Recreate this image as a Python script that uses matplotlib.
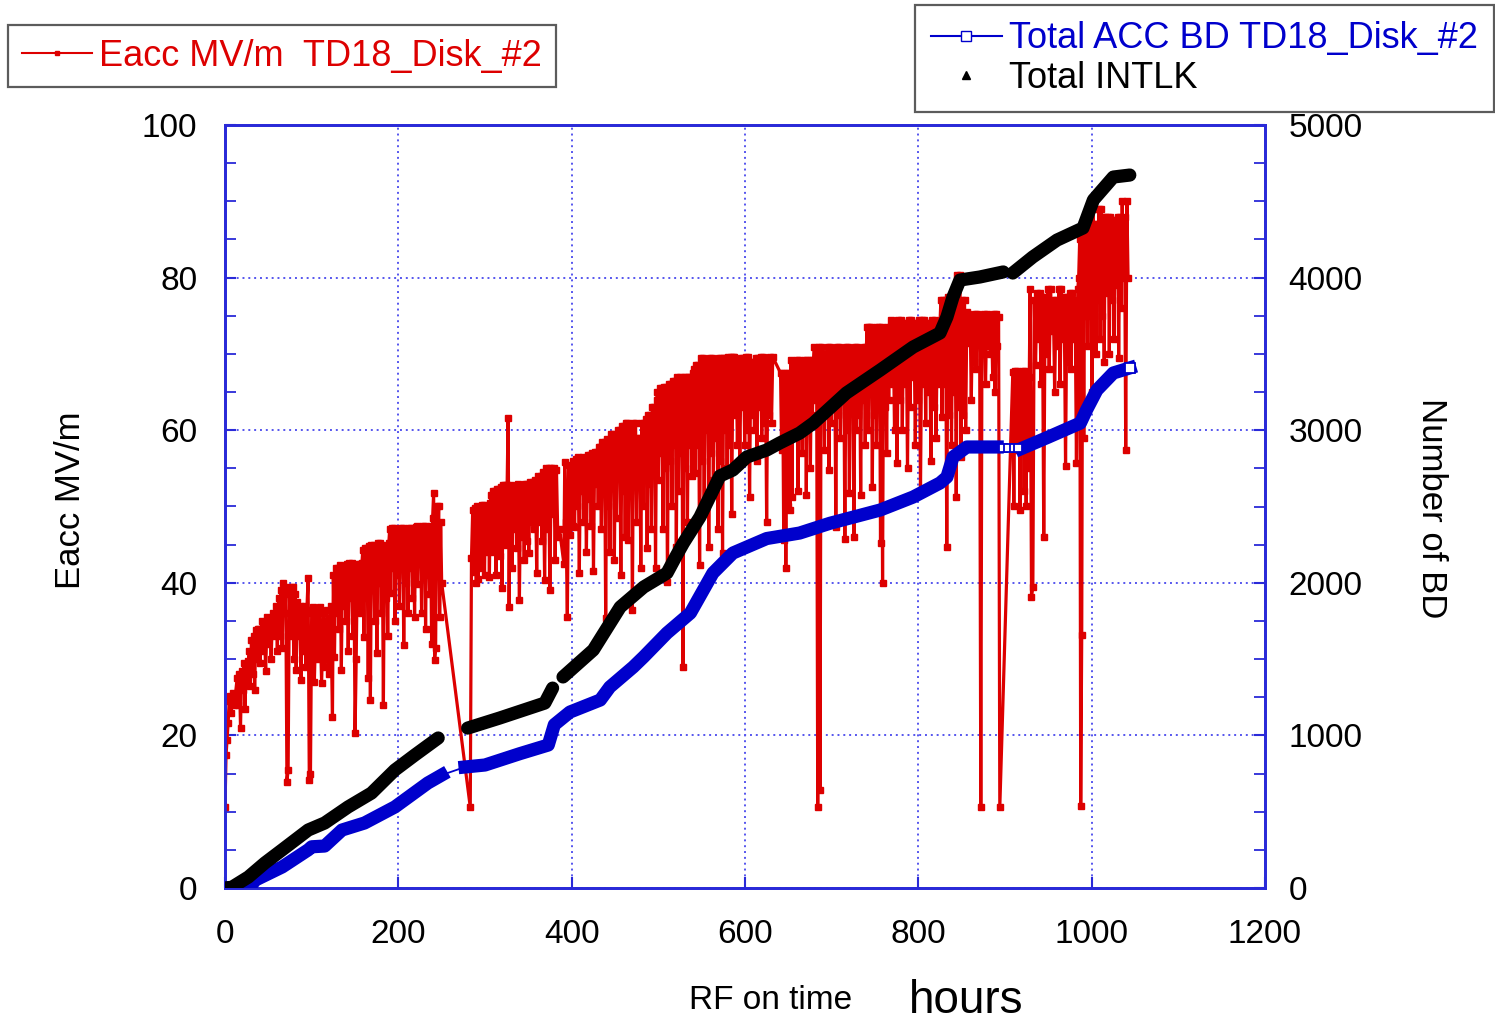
import numpy as np
import matplotlib
matplotlib.use('Agg')
import matplotlib.pyplot as plt
from matplotlib.lines import Line2D

plt.rcParams['font.family'] = ['Liberation Sans', 'DejaVu Sans']

# ---------------- data ----------------
# Eacc (MV/m) readings, grouped in RF-on-time windows (hours)
eacc_windows = [(0, 12), (14, 27), (28, 38), (39, 58), (59, 77), (78, 100), (101, 124),
                (125, 158), (159, 189), (190, 220), (221, 250), (283, 290), (291, 306),
                (307, 329), (330, 348), (349, 384), (386, 391), (392, 401), (402, 432),
                (433, 463), (464, 498), (499, 540), (541, 586), (587, 632), (641, 652),
                (653, 679), (680, 740), (741, 767), (768, 825), (826, 856), (857, 894),
                (909, 928), (929, 984), (985, 1018), (1019, 1042)]
eacc_s01 = [10.6, 17.4, 19.4, 21.6, 24.5, 25.2, 23.0, 25.0, 25.5, 24.0, 25.3]
eacc_s02 = [27.5, 24.0, 28.0, 21.0, 28.5, 26.0, 29.5, 23.5, 29.0, 27.0, 29.8]
eacc_s03 = [31.0, 26.5, 32.5, 28.0, 33.0, 26.0, 33.8, 30.0, 34.0]
eacc_s04 = [34.0, 29.5, 35.0, 31.0, 34.5, 28.5, 35.5, 32.0, 35.0, 30.0, 36.0, 33.0, 35.8]
eacc_s05 = [37.0, 31.0, 38.0, 33.0, 39.0, 31.5, 40.0, 36.0, 39.5, 13.9, 15.5, 38.5, 33.0, 39.5]
eacc_s06 = [39.5, 30.0, 38.5, 28.6, 37.5, 33.0, 37.0, 27.3, 36.8, 31.0, 37.0, 29.0, 36.5,
            40.6, 14.2, 15.0, 36.0]
eacc_s07 = [36.8, 27.0, 36.5, 30.0, 36.8, 26.9, 36.0, 29.0, 36.5, 28.0, 37.0, 22.4]
eacc_s08 = [41.0, 30.3, 42.0, 36.0, 42.0, 34.0, 42.3, 28.6, 42.0, 37.0, 42.0, 35.0, 42.5,
            31.0, 42.6, 38.0, 42.6, 33.0, 42.0, 20.3, 30.0, 42.5, 37.0, 42.5, 36.0, 42.6]
eacc_s09 = [44.3, 32.9, 44.5, 38.0, 44.5, 27.5, 44.8, 24.6, 45.0, 39.0, 45.0, 35.0, 44.5,
            30.8, 45.2, 40.0, 45.2, 36.0, 45.0, 24.0, 44.5, 38.0, 44.5, 33.0, 45.2]
eacc_s10 = [47.0, 38.6, 47.2, 42.0, 47.2, 35.0, 46.8, 41.0, 46.8, 37.0, 47.2, 43.0, 47.2,
            31.8, 46.5, 40.0, 46.5, 36.0, 47.2, 42.0, 47.2, 38.0, 47.0, 35.5, 47.3]
eacc_s11 = [47.5, 39.9, 47.3, 43.0, 47.3, 36.0, 47.5, 41.0, 47.5, 34.0, 46.8, 42.0, 46.8,
            38.5, 47.5, 32.0, 48.5, 51.8, 29.9, 31.5, 50.0, 42.0, 50.0, 35.5, 48.0, 40.0]
eacc_s12 = [10.6, 43.3, 49.5, 41.4, 49.8, 40.0]
eacc_s13 = [50.0, 40.5, 49.8, 45.0, 49.8, 42.0, 50.2, 46.0, 50.2, 41.0, 49.5, 44.0, 50.0,
            46.0, 50.0, 40.8, 50.5]
eacc_s14 = [51.5, 44.0, 52.0, 47.0, 52.0, 41.0, 52.3, 46.0, 52.3, 43.5, 52.5, 39.3, 52.8,
            47.0, 52.8, 45.0, 52.8, 61.6, 36.8, 52.5]
eacc_s15 = [52.8, 42.0, 52.5, 47.0, 52.5, 44.5, 53.0, 37.7, 52.8, 46.0, 52.8, 43.0, 53.0, 45.5]
eacc_s16 = [53.0, 43.9, 53.2, 48.0, 53.2, 47.0, 53.5, 41.3, 54.0, 48.0, 54.0, 45.5, 54.5,
            40.4, 55.0, 47.0, 55.0, 39.0, 55.0, 49.0, 55.0, 43.0, 54.8, 46.0]
eacc_s17 = [47.0, 42.5]
eacc_s18 = [55.8, 48.0, 35.5, 55.5, 46.3, 55.0, 47.5]
eacc_s19 = [56.0, 47.3, 56.2, 50.0, 56.5, 41.3, 56.3, 52.0, 56.5, 48.0, 56.0, 44.0, 56.8,
            51.0, 56.8, 47.5, 57.0, 41.5, 57.2, 53.0, 57.2, 50.0, 57.8]
eacc_s20 = [57.8, 47.0, 58.5, 52.0, 58.5, 35.4, 58.8, 50.0, 58.5, 44.0, 59.5, 53.0, 59.5,
            43.0, 59.0, 48.5, 60.0, 54.0, 60.0, 41.0, 60.5, 52.0, 60.5, 46.0, 61.0]
eacc_s21 = [61.0, 45.6, 60.5, 52.0, 60.5, 36.4, 61.0, 54.0, 61.0, 48.0, 59.0, 53.0, 59.0,
            42.0, 61.0, 50.0, 61.0, 55.0, 61.5, 44.5, 62.0, 53.0, 62.0, 47.0, 63.0, 55.0,
            63.0, 42.0, 64.0]
eacc_s22 = [65.0, 53.5, 65.5, 57.0, 65.5, 47.0, 65.6, 55.0, 65.6, 40.1, 66.0, 56.0, 66.0,
            50.0, 66.5, 58.0, 66.5, 44.7, 67.0, 52.0, 67.0, 57.0, 66.5, 29.0, 67.0, 55.0,
            67.0, 48.0, 67.0, 58.0, 67.0, 54.0, 67.5]
eacc_s23 = [68.0, 54.4, 68.5, 58.0, 68.5, 42.3, 69.4, 56.0, 69.4, 50.0, 69.0, 60.0, 69.0,
            44.7, 69.5, 57.0, 69.5, 53.5, 69.2, 59.0, 69.2, 47.0, 69.5, 56.0, 69.5, 43.9,
            69.4, 60.0, 69.4, 55.0, 69.6, 58.0, 69.6, 49.0, 69.6]
eacc_s24 = [69.6, 62.0, 69.0, 58.0, 69.0, 55.7, 69.5, 63.0, 69.5, 58.0, 69.6, 60.0, 69.6,
            51.3, 69.0, 62.0, 69.0, 60.0, 69.5, 56.0, 69.5, 63.0, 69.6, 59.0, 69.6, 61.0,
            69.2, 48.0, 69.2, 62.0, 69.6, 61.0, 69.6]
eacc_s25 = [67.5, 57.4, 67.5, 45.6, 67.0, 41.9, 67.5, 50.0, 67.5, 49.6]
eacc_s26 = [69.2, 51.3, 69.0, 59.6, 69.0, 62.0, 69.2, 52.0, 69.2, 60.0, 69.0, 57.0, 69.0,
            63.0, 69.2, 51.5, 69.2, 61.0, 69.0, 55.0, 69.2, 62.0, 69.2]
eacc_s27 = [70.9, 64.0, 70.5, 10.6, 70.9, 12.8, 70.9, 62.0, 70.0, 57.4, 70.0, 63.0, 70.9,
            54.8, 70.9, 61.0, 70.5, 64.0, 70.5, 47.3, 70.9, 62.0, 70.9, 59.0, 70.5, 64.0,
            70.5, 45.8, 70.9, 60.0, 70.9, 51.8, 70.5, 63.0, 70.5, 46.0, 70.9, 60.0, 70.9,
            62.0, 70.5, 51.5, 70.5, 64.0, 70.9, 58.0, 70.9]
eacc_s28 = [73.5, 60.0, 73.5, 65.0, 73.5, 52.6, 73.0, 62.0, 73.0, 58.0, 73.5, 66.0, 73.5,
            45.2, 73.5, 40.0, 73.0, 63.0, 73.0, 57.0, 73.5, 64.0, 73.5]
eacc_s29 = [74.4, 66.0, 74.0, 60.0, 74.0, 55.7, 74.4, 64.0, 74.4, 60.0, 74.0, 66.0, 74.0,
            55.0, 74.4, 63.0, 74.4, 67.0, 74.0, 58.0, 74.0, 64.0, 74.4, 52.0, 74.4, 66.0,
            74.4, 61.0, 74.0, 65.0, 74.0, 56.0, 74.4, 63.0, 74.4, 59.0, 74.0, 66.0, 74.0]
eacc_s30 = [77.0, 61.7, 77.0, 66.0, 77.0, 44.7, 77.5, 62.0, 77.5, 58.0, 78.0, 65.0, 78.0,
            51.3, 80.3, 63.0, 80.3, 56.5, 77.0, 62.0, 77.0, 60.0, 75.5]
eacc_s31 = [75.2, 71.4, 75.0, 64.0, 75.0, 69.0, 75.2, 68.0, 75.2, 72.0, 75.0, 10.6, 75.0,
            70.0, 75.2, 66.0, 75.2, 71.0, 75.0, 70.0, 75.0, 67.0, 75.2, 65.0, 75.2, 71.0,
            74.8, 10.6]
eacc_s32 = [67.6, 50.0, 67.8, 57.4, 67.8, 60.0, 67.0, 49.5, 67.0, 58.0, 67.8, 52.0, 67.8,
            50.0, 67.5, 55.0, 67.0]
eacc_s33 = [78.5, 38.2, 39.5, 77.0, 68.6, 78.0, 72.0, 78.0, 66.0, 77.5, 46.0, 77.5, 70.0,
            78.5, 68.0, 78.5, 73.0, 77.0, 65.0, 77.0, 71.0, 78.5, 66.0, 78.5, 72.0, 77.5,
            55.3, 77.5, 69.0, 78.0, 68.0, 78.0, 72.0, 77.0, 55.7, 78.5]
eacc_s34 = [80.0, 85.0, 10.8, 33.2, 86.0, 59.0, 86.0, 75.0, 88.0, 71.0, 88.0, 78.0, 89.0,
            65.0, 89.0, 76.0, 87.0, 70.0, 87.0, 77.0, 89.0, 72.0, 89.0, 75.0, 88.0, 69.0,
            88.0, 78.0, 87.0]
eacc_s35 = [88.0, 70.0, 88.0, 77.0, 87.5, 72.0, 87.5, 79.0, 88.0, 69.5, 88.0, 76.0, 90.0,
            80.0, 88.0, 57.4, 90.0, 80.0]

# Total accumulated breakdowns (right axis)
bd_t = [0, 20, 30, 35, 66, 96, 100, 115, 135, 161, 196, 234, 250, 277, 300, 340, 373, 380,
        398, 433, 444, 471, 483, 510, 537, 563, 586, 625, 663, 698, 756, 794, 825, 833,
        840, 856, 891, 919, 950, 987, 994, 1006, 1025, 1044]
bd_n = [0, 5, 15, 52, 138, 250, 270, 275, 380, 426, 531, 688, 740, 793, 806, 880, 937, 1070,
        1153, 1232, 1317, 1448, 1514, 1671, 1802, 2064, 2195, 2290, 2326, 2390, 2477, 2562,
        2654, 2693, 2824, 2890, 2890, 2880, 2955, 3047, 3132, 3263, 3375, 3408]
bd_band_breaks = [(250, 277), (891, 919)]
bd_open_t = [898, 904, 910, 915]
bd_open_n = [2886, 2884, 2884, 2883]

# Total interlocks (right axis)
intlk_t = [0, 8, 27, 46, 66, 96, 115, 142, 169, 196, 219, 246,
           280, 317, 369, 378,
           390, 425, 456, 483, 510, 521, 529, 548, 571, 586, 602, 625, 640, 663, 679, 717,
           756, 794, 825, 833, 840, 848, 871, 898,
           909, 932, 960, 990, 1002, 1025, 1044]
intlk_n = [0, 5, 72, 164, 250, 380, 426, 531, 622, 773, 871, 983,
           1048, 1114, 1212, 1310,
           1383, 1560, 1841, 1972, 2064, 2180, 2261, 2431, 2700, 2739, 2824, 2870, 2916,
           2981, 3047, 3244, 3394, 3545, 3637, 3742, 3873, 3984, 4004, 4037,
           4030, 4135, 4246, 4325, 4509, 4659, 4672]
intlk_gap_after = [246, 378, 898]

x_ticks = [0, 200, 400, 600, 800, 1000, 1200]
left_ticks = [0, 20, 40, 60, 80, 100]
right_ticks = [0, 1000, 2000, 3000, 4000, 5000]

# ---------------- assemble ----------------
eacc_segs = [eacc_s01, eacc_s02, eacc_s03, eacc_s04, eacc_s05, eacc_s06, eacc_s07, eacc_s08,
             eacc_s09, eacc_s10, eacc_s11, eacc_s12, eacc_s13, eacc_s14, eacc_s15, eacc_s16,
             eacc_s17, eacc_s18, eacc_s19, eacc_s20, eacc_s21, eacc_s22, eacc_s23, eacc_s24,
             eacc_s25, eacc_s26, eacc_s27, eacc_s28, eacc_s29, eacc_s30, eacc_s31, eacc_s32,
             eacc_s33, eacc_s34, eacc_s35]
et, ev = [], []
for (a, b), vals in zip(eacc_windows, eacc_segs):
    et.extend(np.linspace(a, b, len(vals)))
    ev.extend(vals)
et = np.array(et); ev = np.array(ev)

def with_gaps(t, n, gaps_after):
    tt, nn = [], []
    for ti, ni in zip(t, n):
        tt.append(ti); nn.append(ni)
        if ti in gaps_after:
            tt.append(np.nan); nn.append(np.nan)
    return np.array(tt, float), np.array(nn, float)

bt = np.array(bd_t, float); bn = np.array(bd_n, float)
band_n = bn.copy()
for a, b in bd_band_breaks:
    band_n[(bt > a) & (bt < b)] = np.nan
btb, bnb = [], []
for i in range(len(bt)):
    btb.append(bt[i]); bnb.append(band_n[i])
    for a, b in bd_band_breaks:
        if bt[i] == a:
            btb.append(np.nan); bnb.append(np.nan)
btb = np.array(btb); bnb = np.array(bnb)

it, inn = with_gaps(intlk_t, intlk_n, intlk_gap_after)

# ---------------- figure ----------------
RED = '#dd0000'
BLUE = '#0000cc'
AXBLUE = '#2a2ad8'
GRIDBLUE = '#5555ee'

fig = plt.figure(figsize=(14.95, 10.21), dpi=100)
ax = fig.add_axes([225/1495, 1 - 888/1021, 1040/1495, 763/1021])
ax2 = ax.twinx()

ax.set_xlim(0, 1200)
ax.set_ylim(0, 100)
ax2.set_ylim(0, 5000)

ax.grid(True, color=GRIDBLUE, linestyle=(0, (1, 2)), linewidth=1.4)
ax.set_axisbelow(True)

ax.plot(et, ev, color=RED, lw=2.3, marker='s', ms=4.6, mec=RED, mfc=RED, zorder=3,
        solid_joinstyle='miter')

# total accumulated BD
ax2.plot(bt, bn, color=BLUE, lw=1.3, zorder=3)
ax2.plot(btb, bnb, color=BLUE, lw=9.5, solid_capstyle='projecting', zorder=4)
ax2.plot(bd_open_t, bd_open_n, ls='none', marker='s', ms=6, mfc='white', mec=BLUE,
         mew=1.3, zorder=5)
ax2.plot([bd_t[-1]], [bd_n[-1]], ls='none', marker='s', ms=7, mfc='white', mec=BLUE,
         mew=1.3, zorder=5)
# total interlocks
ax2.plot(it, inn, color='black', lw=9.5, solid_capstyle='round', zorder=4)

ax.set_xticks(x_ticks)
ax.set_yticks(left_ticks)
ax.set_yticks(np.arange(0, 101, 5), minor=True)
ax2.set_yticks(right_ticks)
ax2.set_yticks(np.arange(0, 5001, 250), minor=True)

ax.tick_params(axis='x', direction='in', length=8, width=1.5, color=AXBLUE,
               labelsize=24, pad=22, top=False)
ax.tick_params(axis='y', which='major', direction='in', length=8, width=1.5,
               color=AXBLUE, labelsize=24, pad=20)
ax.tick_params(axis='y', which='minor', direction='in', length=8, width=1.3, color=AXBLUE)
ax2.tick_params(axis='y', which='major', direction='in', length=8, width=1.5,
                color=AXBLUE, labelsize=24, pad=17)
ax2.tick_params(axis='y', which='minor', direction='in', length=8, width=1.3, color=AXBLUE)

for a in (ax, ax2):
    for s in a.spines.values():
        s.set_color(AXBLUE)
        s.set_linewidth(2.0)

fig.text(70/1495, 1 - 500/1021, 'Eacc MV/m', rotation=90, ha='center', va='center',
         fontsize=25)
fig.text(1432/1495, 1 - 508/1021, 'Number of BD', rotation=270, ha='center',
         va='center', fontsize=25)
fig.text(771/1495, 1 - 1000/1021, 'RF on time', ha='center', va='center', fontsize=24)
fig.text(966/1495, 1 - 1001/1021, 'hours', ha='center', va='center', fontsize=33)

# legends
h_red = Line2D([], [], color=RED, lw=1.5, marker='s', ms=3.5)
leg1 = fig.legend([h_red], ['Eacc MV/m  TD18_Disk_#2'], loc='upper left',
                  bbox_to_anchor=(8/1495, 1 - 25/1021), borderaxespad=0,
                  fontsize=26, frameon=True, fancybox=False, handlelength=1.95,
                  handletextpad=0.2, borderpad=0.38, labelcolor=[RED])
leg1.get_frame().set_edgecolor('#333333')
leg1.get_frame().set_linewidth(1.6)

h_blue = Line2D([], [], color=BLUE, lw=1.5, marker='s', ms=7, mfc='white', mec=BLUE)
h_blk = Line2D([], [], color='black', lw=0, marker='^', ms=6)
leg2 = fig.legend([h_blue, h_blk], ['Total ACC BD TD18_Disk_#2', 'Total INTLK'],
                  loc='upper left', bbox_to_anchor=(915/1495, 1 - 5/1021),
                  borderaxespad=0, fontsize=26, frameon=True, fancybox=False,
                  handlelength=1.95, handletextpad=0.2, borderpad=0.45, labelspacing=0.13,
                  labelcolor=[BLUE, 'black'])
leg2.get_frame().set_edgecolor('#333333')
leg2.get_frame().set_linewidth(1.6)

fig.savefig('out.png', dpi=100)
